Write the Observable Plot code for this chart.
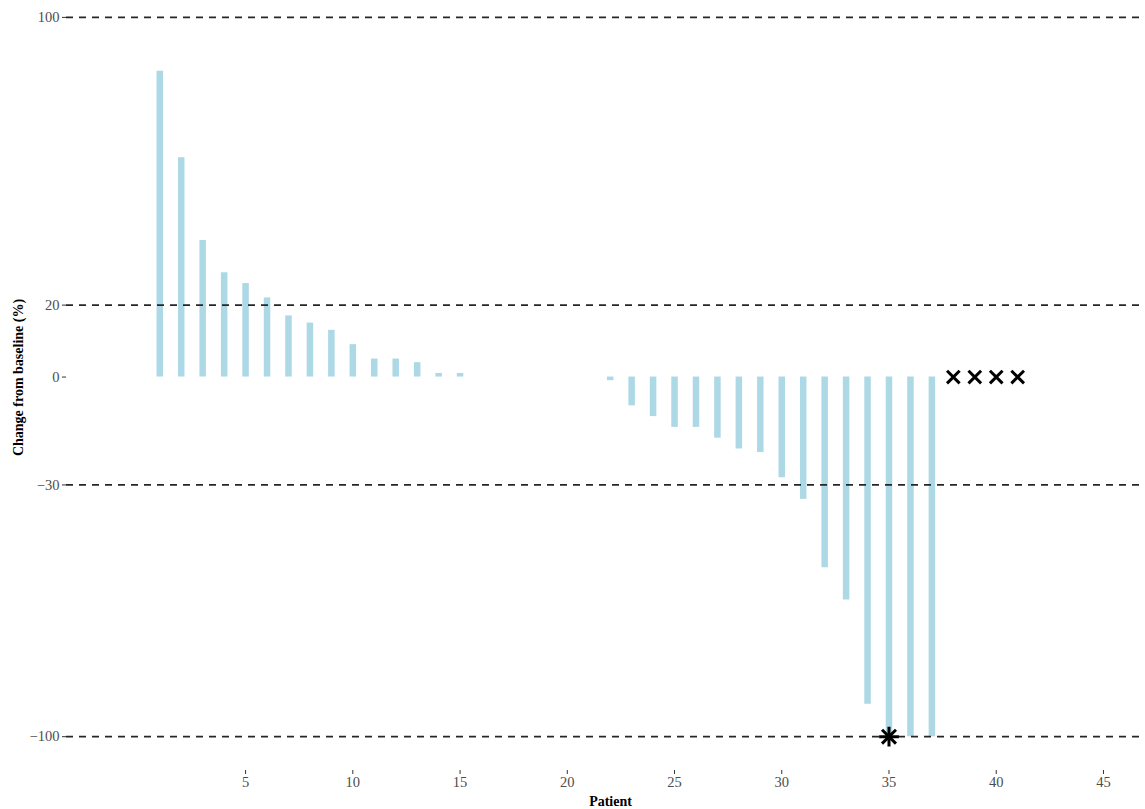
<!DOCTYPE html>
<html>
<head>
<meta charset="utf-8">
<script src="https://cdn.jsdelivr.net/npm/d3@7"></script>
<script src="https://cdn.jsdelivr.net/npm/@observablehq/plot@0.6"></script>
<style>
  html, body { margin: 0; padding: 0; background: #ffffff; }
  #chart svg { display: block; }
</style>
</head>
<body>
<div id="chart"></div>
<script>
// Patients 1..37 with measured change from baseline (%)
const patients = [1,2,3,4,5,6,7,8,9,10,11,12,13,14,15,16,17,18,19,20,21,22,23,24,25,26,27,28,29,30,31,32,33,34,35,36,37];
const changes = [85,61,38,29,26,22,17,15,13,9,5,5,4,1,1,0,0,0,0,0,0,-1,-8,-11,-14,-14,-17,-20,-21,-28,-34,-53,-62,-91,-100,-100,-100];
// Patients without a measurement (shown with a cross at 0)
const notEvaluablePatients = [38,39,40,41];
const notEvaluableValues = [0,0,0,0];
// Patient marked with an asterisk
const asteriskPatients = [35];
const asteriskValues = [-100];
// Axis ticks and reference lines
const yTicks = [100,20,0,-30,-100];
const referenceLines = [100,20,-30,-100];
const xTicks = [5,10,15,20,25,30,35,40,45];

const bars = patients.map((p, i) => ({patient: p, change: changes[i]}));
const crosses = notEvaluablePatients.map((p, i) => ({patient: p, change: notEvaluableValues[i]}));
const stars = asteriskPatients.map((p, i) => ({patient: p, change: asteriskValues[i]}));

const chart = Plot.plot({
  width: 1145,
  height: 809,
  marginLeft: 66,
  marginRight: 0,
  marginTop: 0,
  marginBottom: 39,
  style: {fontFamily: "'Liberation Serif', serif", fontSize: "14px", background: "#ffffff", color: "#4d4d4d"},
  x: {domain: [-3.35, 46.96]},
  y: {domain: [-109.4, 104.7]},
  marks: [
    Plot.ruleX(bars, {x: "patient", y1: 0, y2: "change", stroke: "#add8e6", strokeWidth: 6.5}),
    Plot.ruleY(referenceLines, {stroke: "#262626", strokeWidth: 1.8, strokeDasharray: "7,6"}),
    Plot.axisY({ticks: yTicks, tickSize: 4, tickPadding: 3, stroke: "#333333", fill: "#4d4d4d", label: null, fontSize: 14.5}),
    Plot.axisX({ticks: xTicks, tickSize: 4, tickPadding: 2, stroke: "#333333", fill: "#4d4d4d", label: null, fontSize: 14.5}),
    Plot.dot(crosses, {x: "patient", y: "change", symbol: "times", r: 5.8, stroke: "#000000", strokeWidth: 3}),
    Plot.dot(stars, {x: "patient", y: "change", symbol: "plus", r: 6.4, stroke: "#000000", strokeWidth: 3}),
    Plot.dot(stars, {x: "patient", y: "change", symbol: "times", r: 6.4, stroke: "#000000", strokeWidth: 3}),
    Plot.text(["Change from baseline (%)"], {frameAnchor: "left", rotate: -90, dx: -48, dy: -8, textAnchor: "middle", fontWeight: "bold", fontSize: 14, fill: "#000000", lineAnchor: "middle"}),
    Plot.text(["Patient"], {frameAnchor: "bottom", dx: 4.5, dy: 31, textAnchor: "middle", fontWeight: "bold", fontSize: 14, fill: "#000000", lineAnchor: "middle"})
  ]
});
document.getElementById("chart").appendChild(chart);
</script>
</body>
</html>
